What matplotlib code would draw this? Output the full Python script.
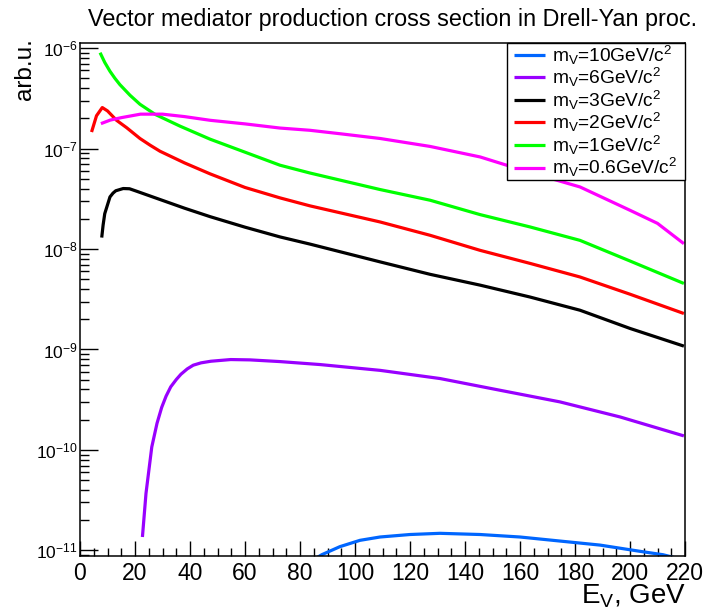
import matplotlib
matplotlib.use("Agg")
import matplotlib.pyplot as plt
from matplotlib.patches import Rectangle
from matplotlib.ticker import MultipleLocator, LogLocator, NullFormatter

plt.rcParams['font.family'] = ['Liberation Sans', 'DejaVu Sans']
plt.rcParams['mathtext.fontset'] = 'custom'
plt.rcParams['mathtext.rm'] = 'Liberation Sans'
plt.rcParams['mathtext.it'] = 'Liberation Sans:italic'
plt.rcParams['mathtext.bf'] = 'Liberation Sans:bold'
plt.rcParams['mathtext.default'] = 'regular'

# ---- data ----
E_m10 = [85, 87.9, 94.5, 101.8, 109.1, 120, 130.9, 145.5, 160, 174.5, 189.1, 203.6, 212, 216]
S_m10 = [8.1e-12, 9.06e-12, 1.09e-11, 1.26e-11, 1.36e-11, 1.44e-11, 1.48e-11, 1.44e-11,
         1.36e-11, 1.24e-11, 1.13e-11, 9.8e-12, 9.06e-12, 8.5e-12]

E_m6 = [22.7, 24, 26.1, 28, 29.7, 31.3, 33.0, 35, 36.7, 39, 41.2, 44, 47.6, 54.8, 61.8,
        72.7, 87.3, 109.1, 130.9, 152.7, 174.5, 196.4, 219.6]
S_m6 = [1.36e-11, 3.7e-11, 1.07e-10, 1.84e-10, 2.65e-10, 3.43e-10, 4.25e-10, 5.02e-10,
        5.67e-10, 6.41e-10, 6.98e-10, 7.36e-10, 7.64e-10, 7.94e-10, 7.88e-10, 7.58e-10,
        7.08e-10, 6.2e-10, 5.14e-10, 3.93e-10, 3.01e-10, 2.13e-10, 1.38e-10]

E_m3 = [7.9, 8.4, 9, 10.9, 12, 13, 15.7, 18, 20.6, 29.1, 38, 47.3, 60, 72.7, 83.6, 109.1,
        127.3, 145.5, 163.6, 181.8, 200, 219.6]
S_m3 = [1.3e-8, 1.73e-8, 2.25e-8, 3.3e-8, 3.6e-8, 3.8e-8, 4.0e-8, 3.98e-8, 3.76e-8,
        3.11e-8, 2.55e-8, 2.1e-8, 1.65e-8, 1.32e-8, 1.12e-8, 7.45e-9, 5.6e-9, 4.37e-9,
        3.33e-9, 2.46e-9, 1.62e-9, 1.08e-9]

E_m2 = [4.2, 6, 8.1, 10, 13.3, 17, 21.8, 25.5, 29.1, 38, 47.3, 60, 72.7, 83.6, 109.1,
        127.3, 145.5, 163.6, 181.8, 200, 219.6]
S_m2 = [1.46e-7, 2.12e-7, 2.56e-7, 2.37e-7, 1.91e-7, 1.61e-7, 1.26e-7, 1.08e-7, 9.4e-8,
        7.2e-8, 5.6e-8, 4.1e-8, 3.23e-8, 2.69e-8, 1.86e-8, 1.37e-8, 9.7e-9, 7.2e-9,
        5.27e-9, 3.55e-9, 2.28e-9]

E_m1 = [7.3, 9, 10.9, 12.7, 14.5, 18.2, 21.8, 27.3, 36.4, 47.3, 58.2, 72.7, 83.6, 109.1,
        127.3, 145.5, 163.6, 181.8, 200, 219.6]
S_m1 = [9.0e-7, 7.2e-7, 5.88e-7, 5.0e-7, 4.33e-7, 3.39e-7, 2.76e-7, 2.19e-7, 1.67e-7,
        1.24e-7, 9.6e-8, 6.83e-8, 5.71e-8, 3.91e-8, 3.06e-8, 2.2e-8, 1.66e-8, 1.22e-8,
        7.6e-9, 4.54e-9]

E_m06 = [7.6, 11, 15, 22, 30, 38, 47.4, 60, 72.7, 83.6, 95, 109.1, 127.3, 145.5, 163,
         181.8, 200, 210, 219.6]
S_m06 = [1.77e-7, 1.92e-7, 2.03e-7, 2.2e-7, 2.2e-7, 2.08e-7, 1.91e-7, 1.76e-7, 1.6e-7,
         1.52e-7, 1.4e-7, 1.26e-7, 1.05e-7, 8.25e-8, 5.85e-8, 4.15e-8, 2.43e-8, 1.8e-8,
         1.13e-8]

labels = [r'm$_{V}$=10GeV/c$^{2}$', r'm$_{V}$=6GeV/c$^{2}$', r'm$_{V}$=3GeV/c$^{2}$',
          r'm$_{V}$=2GeV/c$^{2}$', r'm$_{V}$=1GeV/c$^{2}$', r'm$_{V}$=0.6GeV/c$^{2}$']
colors = ['#0066ff', '#9900ff', '#000000', '#ff0000', '#00ff00', '#ff00ff']
series = [(E_m10, S_m10), (E_m6, S_m6), (E_m3, S_m3), (E_m2, S_m2), (E_m1, S_m1), (E_m06, S_m06)]

title = 'Vector mediator production cross section in Drell-Yan proc.'
xlabel = r'E$_{V}$, GeV'
ylabel = 'arb.u.'

# ---- figure ----
W, H = 706, 609
AX_L, AX_R, AX_T, AX_B = 80, 685, 43.3, 556
fig = plt.figure(figsize=(W / 100, H / 100), dpi=100)
ax = fig.add_axes([AX_L / W, (H - AX_B) / H, (AX_R - AX_L) / W, (AX_B - AX_T) / H])

for (x, y), c, lab in zip(series, colors, labels):
    ax.plot(x, y, color=c, lw=2.3, label=lab, solid_capstyle='butt', zorder=2)

ax.set_yscale('log')
ax.set_xlim(0, 220)
ax.set_ylim(8.8e-12, 1.116e-6)

ax.xaxis.set_major_locator(MultipleLocator(20))
ax.xaxis.set_minor_locator(MultipleLocator(5))
ax.yaxis.set_major_locator(LogLocator(base=10, numticks=20))
ax.yaxis.set_minor_locator(LogLocator(base=10, subs=range(2, 10), numticks=20))
ax.yaxis.set_minor_formatter(NullFormatter())

ax.tick_params(axis='x', which='major', direction='in', length=10.8, width=1.0,
               labelsize=16.5, pad=4, top=False)
ax.tick_params(axis='x', which='minor', direction='in', length=5.8, width=1.0, top=False)
ax.tick_params(axis='y', which='major', direction='in', length=12.7, width=1.0,
               labelsize=12.5, pad=1.5, right=False)
ax.tick_params(axis='y', which='minor', direction='in', length=6.5, width=1.0, right=False)
for sp in ax.spines.values():
    sp.set_linewidth(1.1)

# legend frame (ROOT-style box) and entries
pw, ph = AX_R - AX_L, AX_B - AX_T
ax.add_patch(Rectangle(((507 - AX_L) / pw, (AX_B - 180) / ph), (AX_R - 507) / pw,
                       (180 - AX_T) / ph, transform=ax.transAxes, facecolor='white',
                       edgecolor='black', lw=1.0, zorder=4, clip_on=False))
leg = ax.legend(loc='upper left', bbox_to_anchor=((514 - AX_L) / pw, (AX_B - 43.5) / ph),
                borderaxespad=0, fontsize=13.8, frameon=False, handlelength=1.6,
                handletextpad=0.37, labelspacing=-0.03, borderpad=0.0)
leg.set_zorder(5)
for h in leg.get_lines():
    h.set_linewidth(2.3)

fig.text(392 / W, 1 - 26 / H, title, ha='center', va='baseline', fontsize=16.8)
fig.text(25.5 / W, 1 - 38 / H, ylabel, ha='center', va='top', rotation=90, fontsize=17.5)
fig.text(686 / W, 1 - 603 / H, xlabel, ha='right', va='baseline', fontsize=20)

fig.savefig('out.png', dpi=100)
